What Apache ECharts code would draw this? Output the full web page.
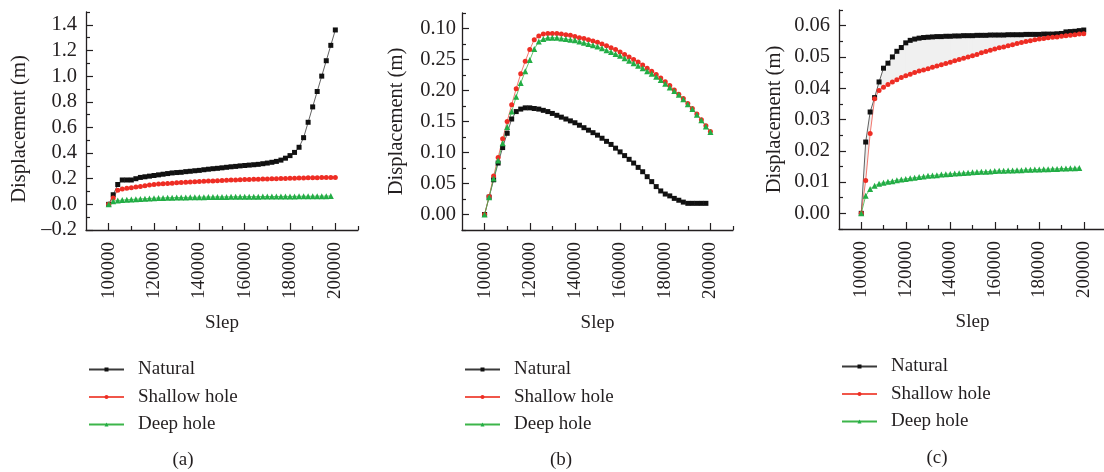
<!DOCTYPE html>
<html>
<head>
<meta charset="utf-8">
<script src="https://cdn.jsdelivr.net/npm/echarts@6/dist/echarts.min.js"></script>
<style>
  html, body { margin: 0; padding: 0; background: #fff; }
  #chart { width: 1104px; height: 472px; }
</style>
</head>
<body>
<div id="chart"></div>
<script>
const steps = [
  100000, 102000, 104000, 106000, 108000, 110000, 112000, 114000, 116000, 118000,
  120000, 122000, 124000, 126000, 128000, 130000, 132000, 134000, 136000, 138000,
  140000, 142000, 144000, 146000, 148000, 150000, 152000, 154000, 156000, 158000,
  160000, 162000, 164000, 166000, 168000, 170000, 172000, 174000, 176000, 178000,
  180000, 182000, 184000, 186000, 188000, 190000, 192000, 194000, 196000, 198000,
  200000
]

const seriesNames = ['Natural', 'Shallow hole', 'Deep hole']

// panel (a)
const naturalA = [
  0, 0.075, 0.155, 0.19, 0.19, 0.19, 0.2, 0.21, 0.215, 0.22,
  0.225, 0.23, 0.235, 0.24, 0.245, 0.248, 0.25, 0.255, 0.258, 0.262,
  0.265, 0.27, 0.274, 0.278, 0.281, 0.285, 0.289, 0.293, 0.296, 0.3,
  0.303, 0.306, 0.309, 0.312, 0.317, 0.322, 0.328, 0.335, 0.345, 0.36,
  0.38, 0.405, 0.445, 0.52, 0.64, 0.76, 0.88, 1.0, 1.12, 1.24,
  1.36
]
const shallowA = [
  0, 0.05, 0.11, 0.12, 0.125, 0.13, 0.135, 0.14, 0.145, 0.15,
  0.155, 0.158, 0.16, 0.163, 0.165, 0.168, 0.17, 0.172, 0.174, 0.176,
  0.178, 0.18, 0.182, 0.183, 0.185, 0.186, 0.188, 0.189, 0.19, 0.191,
  0.193, 0.194, 0.195, 0.196, 0.197, 0.198, 0.199, 0.2, 0.201, 0.202,
  0.203, 0.204, 0.205, 0.206, 0.207, 0.208, 0.208, 0.209, 0.21, 0.21,
  0.21
]
const deepA = [
  0, 0.025, 0.03, 0.033, 0.036, 0.038, 0.04, 0.042, 0.044, 0.046,
  0.048, 0.049, 0.05, 0.051, 0.052, 0.053, 0.054, 0.054, 0.055, 0.055,
  0.056, 0.056, 0.057, 0.057, 0.058, 0.058, 0.058, 0.059, 0.059, 0.059,
  0.06, 0.06, 0.06, 0.06, 0.061, 0.061, 0.061, 0.061, 0.062, 0.062,
  0.062, 0.062, 0.063, 0.063, 0.063, 0.063, 0.064, 0.064, 0.064, 0.065,
  null
]

// panel (b)
const naturalB = [
  0, 0.028, 0.056, 0.083, 0.108, 0.131, 0.154, 0.166, 0.17, 0.172,
  0.172, 0.171, 0.17, 0.168, 0.166, 0.163, 0.16, 0.157, 0.154, 0.151,
  0.148, 0.144, 0.14, 0.136, 0.132, 0.128, 0.123, 0.118, 0.113, 0.107,
  0.101, 0.095, 0.089, 0.083, 0.076, 0.069, 0.061, 0.053, 0.045, 0.038,
  0.033, 0.03, 0.026, 0.023, 0.02, 0.018, 0.018, 0.018, 0.018, 0.018,
  null
]
const shallowB = [
  0, 0.029, 0.062, 0.092, 0.122, 0.15, 0.177, 0.203, 0.227, 0.247,
  0.266, 0.282, 0.288, 0.291, 0.292, 0.292, 0.292, 0.291, 0.29, 0.289,
  0.287, 0.285, 0.284, 0.282, 0.28, 0.278, 0.275, 0.272, 0.269, 0.266,
  0.262, 0.258, 0.254, 0.25, 0.246, 0.241, 0.236, 0.231, 0.226, 0.22,
  0.214, 0.208, 0.201, 0.194, 0.187, 0.179, 0.171, 0.162, 0.153, 0.143,
  0.134
]
const deepB = [
  0, 0.028, 0.058, 0.087, 0.115, 0.141, 0.166, 0.19, 0.212, 0.231,
  0.249, 0.267, 0.279, 0.283, 0.285, 0.285, 0.285, 0.284, 0.283, 0.282,
  0.281, 0.279, 0.277, 0.275, 0.273, 0.271, 0.268, 0.265, 0.262, 0.259,
  0.256, 0.252, 0.248, 0.244, 0.24, 0.236, 0.231, 0.227, 0.222, 0.217,
  0.211, 0.205, 0.199, 0.193, 0.186, 0.178, 0.17, 0.161, 0.152, 0.142,
  0.133
]

// panel (c)
const naturalC = [
  0, 0.0228, 0.0324, 0.037, 0.042, 0.0464, 0.048, 0.05, 0.0518, 0.053,
  0.0545, 0.0553, 0.0557, 0.056, 0.0562, 0.0563, 0.0564, 0.0565, 0.0565, 0.0566,
  0.0566, 0.0567, 0.0567, 0.0568, 0.0568, 0.0568, 0.0569, 0.0569, 0.0569, 0.057,
  0.057, 0.057, 0.057, 0.0571, 0.0571, 0.0571, 0.0571, 0.0572, 0.0572, 0.0572,
  0.0572, 0.0573, 0.0573, 0.0573, 0.0574, 0.0575, 0.058, 0.0581, 0.0582, 0.0584,
  0.0586
]
const shallowC = [
  0, 0.0105, 0.0255, 0.0366, 0.0393, 0.0403, 0.0412, 0.042, 0.0427, 0.0434,
  0.044, 0.0445, 0.045, 0.0455, 0.0458, 0.0462, 0.0467, 0.0471, 0.0475, 0.0479,
  0.0483, 0.0488, 0.0492, 0.0496, 0.05, 0.0504, 0.0508, 0.0513, 0.0517, 0.0521,
  0.0525, 0.0529, 0.0532, 0.0536, 0.0539, 0.0543, 0.0546, 0.0549, 0.0552, 0.0555,
  0.0557, 0.0559, 0.0561, 0.0563, 0.0564, 0.0566, 0.0568, 0.0569, 0.0571, 0.0573,
  0.0574
]
const deepC = [
  0, 0.0056, 0.0078, 0.0088, 0.0095, 0.0098, 0.0101, 0.0103, 0.0106, 0.0108,
  0.011, 0.0112, 0.0114, 0.0116, 0.0118, 0.012, 0.0121, 0.0122, 0.0124, 0.0125,
  0.0126, 0.0127, 0.0128, 0.0129, 0.013, 0.0131, 0.0132, 0.0133, 0.0133, 0.0134,
  0.0135, 0.0136, 0.0136, 0.0137, 0.0137, 0.0138, 0.0138, 0.0139, 0.0139, 0.014,
  0.014, 0.0141, 0.0141, 0.0142, 0.0142, 0.0143, 0.0143, 0.0144, 0.0144, 0.0145,
  null
]

// axis ticks
const xTicks = [100000, 120000, 140000, 160000, 180000, 200000]
const xMinorTicks = [110000, 130000, 150000, 170000, 190000, 210000]
const yTicksA = [-0.2, 0, 0.2, 0.4, 0.6, 0.8, 1.0, 1.2, 1.4]
const yMinorA = [-0.1, 0.1, 0.3, 0.5, 0.7, 0.9, 1.1, 1.3, 1.5]
const yTicksB = [0, 0.05, 0.1, 0.15, 0.2, 0.25, 0.3]
const yLabelsB = ['0.00', '0.05', '0.10', '0.15', '0.20', '0.25', '0.10']
const yMinorB = [-0.025, 0.025, 0.075, 0.125, 0.175, 0.225, 0.275, 0.325]
const yTicksC = [0, 0.01, 0.02, 0.03, 0.04, 0.05, 0.06]
const yMinorC = [-0.005, 0.005, 0.015, 0.025, 0.035, 0.045, 0.055, 0.065]

const FONT = '"Liberation Serif", "DejaVu Serif", serif'
const INK = '#231f20'
const COLORS = {
  line: ['#3a3a3a', '#f0564a', '#3cb54a'],
  mark: ['#111111', '#ee2d24', '#22ad45'],
}
const SYMBOLS = ['rect', 'circle', 'triangle']

const panels = [
  {
    grid: { left: 86, top: 12, width: 272, height: 218 },
    y: [-0.2, 1.5], yTicks: yTicksA, yMinor: yMinorA, labelMargin: 9, nameGap: 56, namePad: [0, 16, 0, 0],
    fmt: (v) => v.toFixed(1).replace('-', '\u2013'),
    data: [naturalA, shallowA, deepA],
    legend: { left: 88, top: 360 },
    caption: { x: 183, y: 460, text: '(a)' },
  },
  {
    grid: { left: 462, top: 13, width: 271, height: 217 },
    y: [-0.025, 0.325], yTicks: yTicksB, yMinor: yMinorB, labelMargin: 6, nameGap: 55, namePad: 0,
    fmt: (v) => yLabelsB[Math.round(v / 0.05)],
    data: [naturalB, shallowB, deepB],
    legend: { left: 464, top: 360 },
    caption: { x: 561, y: 460, text: '(b)' },
  },
  {
    grid: { left: 839, top: 10, width: 267, height: 219 },
    y: [-0.005, 0.065], yTicks: yTicksC, yMinor: yMinorC, labelMargin: 9, nameGap: 54, namePad: 0,
    fmt: (v) => v.toFixed(2),
    data: [naturalC, shallowC, deepC],
    band: true,
    legend: { left: 841, top: 357 },
    caption: { x: 937, y: 458, text: '(c)' },
  },
]

function pairs(values) {
  return steps.map((s, i) => [s, values[i]])
}

// one quad per step between the Natural and Shallow hole curves
function bandItems(upper, lower) {
  const items = []
  for (let i = 0; i < steps.length - 1; i++) {
    if (upper[i + 1] == null || lower[i + 1] == null) continue
    items.push([steps[i], upper[i], lower[i], steps[i + 1], upper[i + 1], lower[i + 1]])
  }
  return items
}

function renderBand(params, api) {
  const a = api.coord([api.value(0), api.value(1)])
  const b = api.coord([api.value(3), api.value(4)])
  const c = api.coord([api.value(3), api.value(5)])
  const d = api.coord([api.value(0), api.value(2)])
  return {
    type: 'polygon',
    shape: { points: [a, b, c, d] },
    style: { fill: 'rgba(150,150,150,0.14)', stroke: 'none' },
  }
}

function buildOption() {
  const grid = []
  const xAxis = []
  const yAxis = []
  const series = []
  const legend = []
  const graphic = []

  panels.forEach((p, gi) => {
    grid.push(Object.assign({ containLabel: false, outerBoundsMode: 'none' }, p.grid))

    const xMain = xAxis.length
    xAxis.push({
      type: 'value', gridIndex: gi, position: 'bottom', min: 90000, max: 210000,
      name: 'Slep', nameLocation: 'middle', nameGap: 84,
      nameTextStyle: { fontFamily: FONT, fontSize: 19, color: INK },
      axisLine: { onZero: false, lineStyle: { color: INK, width: 1.3 } },
      axisTick: { inside: true, length: 7, customValues: xTicks, lineStyle: { color: INK, width: 1.2 } },
      axisLabel: {
        customValues: xTicks, rotate: 90, margin: 12, formatter: (v) => String(v),
        fontFamily: FONT, fontSize: 19, color: INK,
      },
      splitLine: { show: false },
    })
    xAxis.push({
      type: 'value', gridIndex: gi, position: 'bottom', min: 90000, max: 210000,
      axisLine: { show: false, onZero: false },
      axisTick: { inside: true, length: 4, customValues: xMinorTicks, lineStyle: { color: INK, width: 1.2 } },
      axisLabel: { show: false },
      splitLine: { show: false },
    })

    const yMain = yAxis.length
    yAxis.push({
      type: 'value', gridIndex: gi, position: 'left', min: p.y[0], max: p.y[1],
      name: 'Displacement (m)', nameLocation: 'middle', nameGap: p.nameGap,
      nameTextStyle: { fontFamily: FONT, fontSize: 20.5, color: INK, padding: p.namePad },
      axisLine: { onZero: false, lineStyle: { color: INK, width: 1.3 } },
      axisTick: { inside: true, length: 7, customValues: p.yTicks, lineStyle: { color: INK, width: 1.2 } },
      axisLabel: {
        customValues: p.yTicks, margin: p.labelMargin, formatter: p.fmt,
        fontFamily: FONT, fontSize: 20.5, color: INK,
      },
      splitLine: { show: false },
    })
    yAxis.push({
      type: 'value', gridIndex: gi, position: 'left', min: p.y[0], max: p.y[1],
      axisLine: { show: false, onZero: false },
      axisTick: { inside: true, length: 4, customValues: p.yMinor, lineStyle: { color: INK, width: 1.2 } },
      axisLabel: { show: false },
      splitLine: { show: false },
    })

    if (p.band) {
      series.push({
        type: 'custom', xAxisIndex: xMain, yAxisIndex: yMain, silent: true, z: 1,
        data: bandItems(p.data[0], p.data[1]),
        renderItem: renderBand,
        encode: { x: [0, 3], y: [1, 2, 4, 5] },
      })
    }

    p.data.forEach((values, si) => {
      series.push({
        name: seriesNames[si], type: 'line', xAxisIndex: xMain, yAxisIndex: yMain,
        data: pairs(values), symbol: SYMBOLS[si], symbolSize: si === 2 ? 6 : 5,
        showAllSymbol: true, connectNulls: false, animation: false,
        lineStyle: { color: COLORS.line[si], width: 0.8 },
        itemStyle: { color: COLORS.mark[si] },
        z: 3,
      })
    })

    legend.push({
      orient: 'vertical', left: p.legend.left, top: p.legend.top, padding: 0,
      itemWidth: 35, itemHeight: 5, itemGap: 8.5, selectedMode: false,
      data: seriesNames,
      textStyle: { fontFamily: FONT, fontSize: 19, color: INK, lineHeight: 19, padding: [0, 0, 0, 9] },
    })

    graphic.push({
      type: 'text', x: p.caption.x, y: p.caption.y,
      style: { text: p.caption.text, fill: INK, font: '19px ' + FONT, align: 'center', verticalAlign: 'middle' },
    })
  })

  return { animation: false, backgroundColor: '#fff', grid, xAxis, yAxis, series, legend, graphic }
}

const chart = echarts.init(document.getElementById('chart'), null, { renderer: 'canvas' })
chart.setOption(buildOption())
window.addEventListener('resize', () => chart.resize())
</script>
</body>
</html>
